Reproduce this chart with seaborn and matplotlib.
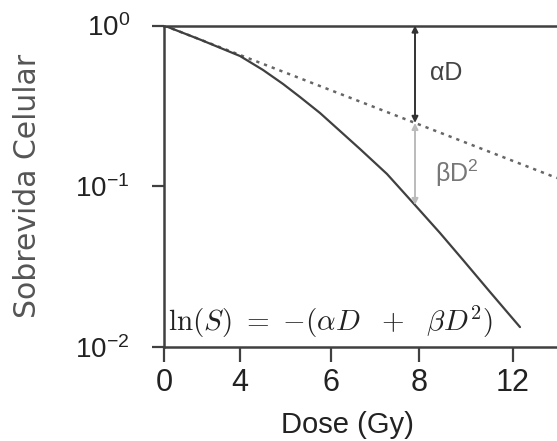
import matplotlib
matplotlib.use("Agg")
import matplotlib.pyplot as plt
import seaborn as sns
import numpy as np
import pandas as pd

# ---- data (x is schematic position along the dose axis) ----
curve_pos = [0, 3.6, 7.6, 9.9, 11.9, 13.6, 15.6, 17.6, 19.6, 22.3, 25.1, 27.6, 29.9, 32.6, 35.6]
curve_surv = [1.0, 0.818, 0.646, 0.529, 0.433, 0.359, 0.2856, 0.2207, 0.1705, 0.1192,
              0.0764, 0.0512, 0.0348, 0.0220, 0.0133]
linear_pos = [0, 39.3]
linear_surv = [1.0, 0.1125]
tick_pos = [0, 7.6, 16.7, 25.5, 34.9]
tick_labels = ["0", "4", "6", "8", "12"]
ytick_vals = [1.0, 0.1, 0.01]
ytick_labels = [r"$10^{0}$", r"$10^{-1}$", r"$10^{-2}$"]
arrow_pos = 25.1
arrow_top, arrow_mid, arrow_bot = 1.0, 0.2478, 0.0764

sns.set_theme(style="white")
plt.rcParams["font.family"] = ["Liberation Sans", "DejaVu Sans"]
plt.rcParams["mathtext.fontset"] = "custom"
plt.rcParams["mathtext.rm"] = "Liberation Sans"
plt.rcParams["mathtext.it"] = "Liberation Sans:italic"

INK = "#404040"

fig = plt.figure(figsize=(5.57, 4.41), dpi=100)
ax = fig.add_axes([164 / 557, 1 - 347 / 441, 1 - 164 / 557, (347 - 25.5) / 441])
ax.set_yscale("log")

df_curve = pd.DataFrame({"pos": curve_pos, "surv": curve_surv})
df_lin = pd.DataFrame({"pos": linear_pos, "surv": linear_surv})

sns.lineplot(data=df_lin, x="pos", y="surv", ax=ax, color="#666666", lw=1.8,
             linestyle=(0, (1.3, 2.0)), sort=False)
sns.lineplot(data=df_curve, x="pos", y="surv", ax=ax, color=INK, lw=1.6, sort=False)

ax.set_xlim(0, 39.3)
ax.set_ylim(0.01, 1.0)

ax.set_xticks(tick_pos)
ax.set_xticklabels(tick_labels)
ax.set_yticks(ytick_vals)
ax.set_yticklabels(ytick_labels)
ax.yaxis.set_minor_locator(matplotlib.ticker.NullLocator())

ax.tick_params(axis="x", direction="out", length=11, width=1.6, color=INK, pad=4,
               labelsize=22, labelcolor="#222222", bottom=True)
ax.tick_params(axis="y", direction="out", length=8.6, width=1.6, color=INK, pad=16,
               labelsize=20, labelcolor="#222222", left=True)

for side in ["left", "bottom", "top"]:
    ax.spines[side].set_visible(True)
    ax.spines[side].set_color(INK)
    ax.spines[side].set_linewidth(1.8)
ax.spines["right"].set_visible(False)

ax.set_xlabel("Dose (Gy)", fontsize=21, color="#222222")
ax.xaxis.set_label_coords(0.466, -0.2)
ax.set_ylabel("Sobrevida Celular", fontsize=21.5, color="#555555",
              family=["DejaVu Sans"])
ax.yaxis.set_label_coords(-0.31, 0.5)

# arrows
ax.annotate("", xy=(arrow_pos, arrow_top), xytext=(arrow_pos, arrow_mid),
            arrowprops=dict(arrowstyle="<|-|>", color="#333333", lw=1.4,
                            mutation_scale=9, shrinkA=0, shrinkB=0))
ax.annotate("", xy=(arrow_pos, arrow_mid), xytext=(arrow_pos, arrow_bot),
            arrowprops=dict(arrowstyle="<|-|>", color="#bbbbbb", lw=1.4,
                            mutation_scale=9, shrinkA=0, shrinkB=0))
ax.text(26.6, 0.51, "αD", fontsize=18, color="#444444", va="center", ha="left")
ax.text(27.1, 0.12, r"βD$^{2}$", fontsize=18, color="#777777", va="center", ha="left")

# formula
t = ax.text(0.4, 0.0143, r"$\ln(S)\ =\ {-}(\alpha D\ \ +\ \ \beta D^{2})$", fontsize=21,
            color="#222222", va="center", ha="left")
t.set_math_fontfamily("cm")

fig.savefig("out.png", dpi=100)
